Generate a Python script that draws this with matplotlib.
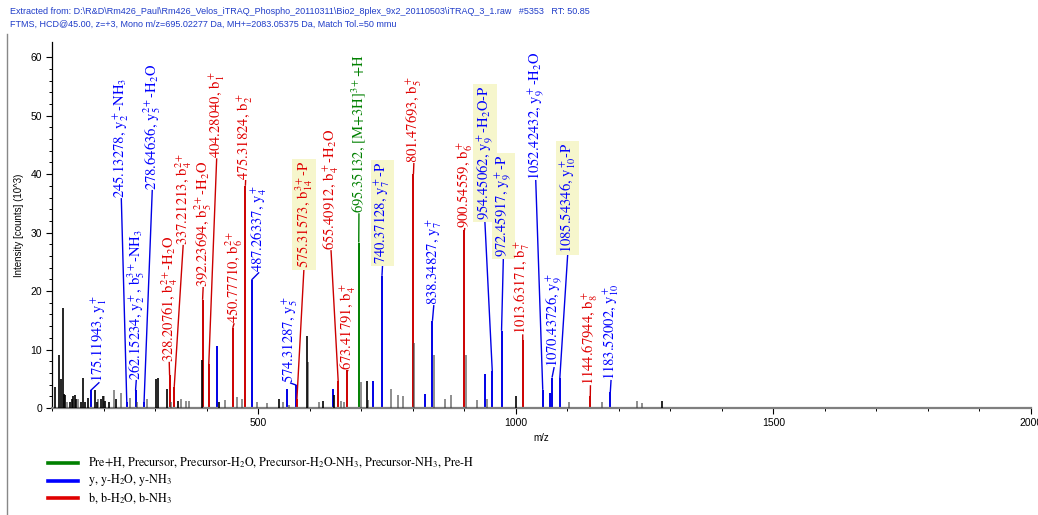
import matplotlib
matplotlib.use("Agg")
import matplotlib.pyplot as plt
from matplotlib.lines import Line2D

plt.rcParams['mathtext.fontset'] = 'stix'

W, H = 1038, 515

# ---------------- data ----------------
# annotated (matched) fragment ions
ion_mz = [175.11943, 245.13278, 262.15234, 278.64636, 328.20761, 337.21213,
          392.23694, 404.28040, 450.77710, 475.31824, 487.26337, 574.31287,
          575.31573, 655.40912, 673.41791, 695.35132, 740.37128, 801.47693,
          838.34827, 900.54559, 954.45062, 972.45917, 1013.63171, 1052.42432,
          1070.43726, 1085.54346, 1144.67944, 1183.52002]
ion_int = [3.0, 1.0, 3.0, 1.0, 5.6, 3.6,
           18.5, 7.5, 13.7, 38.0, 21.9, 3.9,
           1.5, 4.6, 6.5, 28.3, 22.6, 40.0,
           14.9, 30.4, 6.3, 13.2, 11.6, 3.1,
           5.2, 5.1, 2.05, 2.7]
ion_type = ['y', 'y', 'y', 'y', 'b', 'b',
            'b', 'b', 'b', 'b', 'y', 'y',
            'b', 'b', 'b', 'pre', 'y', 'b',
            'y', 'b', 'y', 'y', 'b', 'y',
            'y', 'y', 'b', 'y']
ion_label = [
    r"175.11943, $\mathrm{y}_1^+$",
    r"245.13278, $\mathrm{y}_2^+$-NH$_3$",
    r"262.15234, $\mathrm{y}_2^+$, $\mathrm{b}_5^{3+}$-NH$_3$",
    r"278.64636, $\mathrm{y}_5^{2+}$-H$_2$O",
    r"328.20761, $\mathrm{b}_4^{2+}$-H$_2$O",
    r"337.21213, $\mathrm{b}_4^{2+}$",
    r"392.23694, $\mathrm{b}_5^{2+}$-H$_2$O",
    r"404.28040, $\mathrm{b}_1^+$",
    r"450.77710, $\mathrm{b}_6^{2+}$",
    r"475.31824, $\mathrm{b}_2^+$",
    r"487.26337, $\mathrm{y}_4^+$",
    r"574.31287, $\mathrm{y}_5^+$",
    r"575.31573, $\mathrm{b}_{14}^{3+}$-P",
    r"655.40912, $\mathrm{b}_4^+$-H$_2$O",
    r"673.41791, $\mathrm{b}_4^+$",
    r"695.35132, [M+3H]$^{3+}$+H",
    r"740.37128, $\mathrm{y}_7^+$-P",
    r"801.47693, $\mathrm{b}_5^+$",
    r"838.34827, $\mathrm{y}_7^+$",
    r"900.54559, $\mathrm{b}_6^+$",
    r"954.45062, $\mathrm{y}_9^+$-H$_2$O-P",
    r"972.45917, $\mathrm{y}_9^+$-P",
    r"1013.63171, $\mathrm{b}_7^+$",
    r"1052.42432, $\mathrm{y}_9^+$-H$_2$O",
    r"1070.43726, $\mathrm{y}_9^+$",
    r"1085.54346, $\mathrm{y}_{10}^+$-P",
    r"1144.67944, $\mathrm{b}_8^+$",
    r"1183.52002, $\mathrm{y}_{10}^+$",
]
ion_phospho = [False, False, False, False, False, False,
               False, False, False, False, False, False,
               True, False, False, False, True, False,
               False, False, True, True, False, False,
               False, True, False, False]

# matched but unlabeled y-ions
y_extra_mz = [420.5, 557.0, 645.0, 723.5, 824.0, 940.0, 1066.0]
y_extra_int = [10.6, 3.2, 3.3, 4.6, 2.4, 5.9, 2.5]

# unmatched peaks
black_mz = [105, 114, 118, 121, 123, 126, 134, 138, 141, 144, 147, 157, 161, 165,
            170, 183, 188, 196, 199, 203, 210, 225, 302, 305, 323.6, 345, 391,
            425, 540, 594, 625, 648, 711, 1000, 1283]
black_int = [3.6, 9.0, 5.0, 17.1, 2.4, 2.2, 1.0, 1.6, 2.0, 2.2, 1.5, 1.0, 5.1, 1.0,
             1.7, 3.1, 1.0, 1.5, 2.0, 1.2, 1.0, 1.5, 5.0, 5.2, 3.2, 1.2, 8.2,
             1.0, 1.5, 12.3, 1.25, 2.3, 4.7, 2.1, 1.2]
gray_mz = [130, 150, 190, 200, 220, 234.5, 252, 265, 285, 330, 350, 360, 365,
           435, 460, 468, 498, 517, 548, 560, 597, 618, 660, 667, 700, 713, 757,
           771, 782, 803, 842, 862, 875, 903, 925, 945, 1104, 1167, 1235, 1246]
gray_int = [1.0, 1.5, 1.5, 2.0, 3.0, 2.6, 1.7, 1.0, 1.5, 1.0, 1.5, 1.2, 1.2,
            1.3, 1.8, 1.5, 1.0, 0.8, 1.0, 0.5, 7.9, 1.0, 1.2, 1.1, 4.5, 1.3, 3.2,
            2.3, 2.0, 11.1, 9.0, 1.6, 2.3, 9.0, 1.4, 1.5, 1.0, 1.0, 1.2, 0.9]

legend_labels = [
    r"Pre+H, Precursor, Precursor-H$_2$O, Precursor-H$_2$O-NH$_3$, Precursor-NH$_3$, Pre-H",
    r"y, y-H$_2$O, y-NH$_3$",
    r"b, b-H$_2$O, b-NH$_3$",
]
title_lines = [
    r"Extracted from: D:\R&D\Rm426_Paul\Rm426_Velos_iTRAQ_Phospho_20110311\Bio2_8plex_9x2_20110503\iTRAQ_3_1.raw   #5353   RT: 50.85",
    r"FTMS, HCD@45.00, z=+3, Mono m/z=695.02277 Da, MH+=2083.05375 Da, Match Tol.=50 mmu",
]

# ---------------- layout (label anchor positions in data coords) ----------------
label_pos = [(192, 4.4), (234.5, 35.9), (263.6, 4.8), (294.6, 37.3), (327.5, 7.9),
             (354.6, 27.9), (393.4, 20.7), (419.6, 42.7), (453.5, 14.5), (475.8, 39.0),
             (502, 23.2), (562, 4.3), (589, 23.9), (641.5, 27.0), (674.4, 6.5),
             (695.7, 33.3), (741.6, 24.6), (802.3, 41.9), (841, 17.6), (901, 30.8),
             (940, 32.1), (976, 25.8), (1013.6, 12.6), (1038.8, 39.0), (1074.6, 7.0),
             (1101, 26.5), (1145, 3.9), (1185, 4.8)]

bar_col = {'y': '#0000e6', 'b': '#cc0000', 'pre': '#008000'}
txt_col = {'y': '#0000ff', 'b': '#e00000', 'pre': '#008000'}

fig = plt.figure(figsize=(W / 100, H / 100), dpi=100)
ax = fig.add_axes([52 / W, 1 - 408 / H, (1031 - 52) / W, (408 - 42) / H])

ax.vlines(ion_mz, 0, ion_int, colors=[bar_col[t] for t in ion_type], lw=1.4, zorder=2)
ax.vlines(y_extra_mz, 0, y_extra_int, colors=bar_col['y'], lw=1.4, zorder=2)
ax.vlines(gray_mz, 0, gray_int, colors='#444444', alpha=0.7, lw=1.2, zorder=3)
ax.vlines(black_mz, 0, black_int, colors='black', lw=1.2, zorder=3)

for mz, it, t, lab, hl, (lx, ly) in zip(ion_mz, ion_int, ion_type, ion_label,
                                         ion_phospho, label_pos):
    ax.plot([mz, lx], [it, ly], color=bar_col[t], lw=1.0, zorder=2,
            solid_capstyle='butt')
    kw = {}
    if hl:
        kw['bbox'] = dict(boxstyle='square,pad=0.12', fc='#f6f6cc', ec='none')
    ax.text(lx, ly, lab, rotation=90, ha='center', va='bottom', color=txt_col[t],
            fontsize=10.5, family='STIXGeneral', zorder=4, **kw)

ax.set_xlim(100, 2000)
ax.set_ylim(0, 62.6)
ax.set_xticks([500, 1000, 1500, 2000])
ax.set_xticks(range(100, 2001, 100), minor=True)
ax.set_yticks(range(0, 61, 10))
ax.set_yticks(range(0, 62, 2), minor=True)
ax.spines['top'].set_visible(False)
ax.spines['right'].set_visible(False)
ax.spines['bottom'].set_color('#7f7f7f')
ax.spines['bottom'].set_linewidth(1.6)
ax.spines['left'].set_linewidth(0.9)
ax.tick_params(axis='both', which='major', labelsize=7.5, length=4, width=0.8,
               colors='black', pad=3)
ax.tick_params(axis='both', which='minor', length=2, width=0.7)
ax.set_xlabel("m/z", fontsize=7, labelpad=4)
ax.set_ylabel("Intensity [counts] (10^3)", fontsize=7, labelpad=5)
for lbl in ax.get_xticklabels() + ax.get_yticklabels():
    lbl.set_family('Liberation Sans')
ax.xaxis.label.set_family('Liberation Sans')
ax.yaxis.label.set_family('Liberation Sans')

# title block
for i, line in enumerate(title_lines):
    fig.text(10 / W, 1 - (12 + 12 * i) / H, line, fontsize=6.5, color='#1f3cc8',
             family='Liberation Sans', va='center', ha='left')

# left frame line
fig.add_artist(Line2D([7 / W, 7 / W], [0, 1 - 34 / H], color='#888888', lw=1.0))

# legend
leg_cols = ['#008000', '#0000ff', '#e00000']
for i, (lab, c) in enumerate(zip(legend_labels, leg_cols)):
    yy = 1 - (463 + 17.5 * i) / H
    fig.add_artist(Line2D([48 / W, 78 / W], [yy, yy], color=c, lw=2.6))
    fig.text(88 / W, yy, lab, fontsize=8.7, family='STIXGeneral', va='center', ha='left')

fig.savefig("out.png", dpi=100)
